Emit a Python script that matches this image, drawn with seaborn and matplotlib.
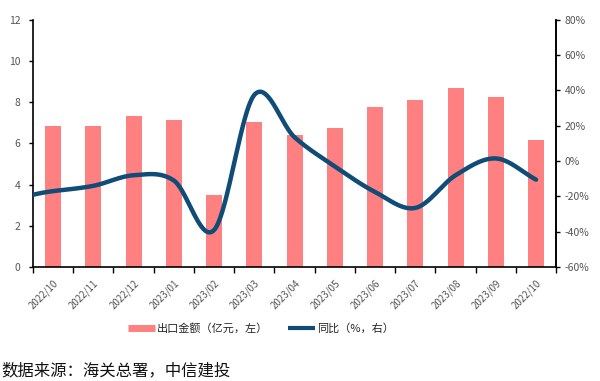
import numpy as np
import pandas as pd
import matplotlib
matplotlib.use("Agg")
import matplotlib.pyplot as plt
from matplotlib.lines import Line2D
from matplotlib.ticker import FuncFormatter
import seaborn as sns

months = ["2022/10", "2022/11", "2022/12", "2023/01", "2023/02", "2023/03", "2023/04",
          "2023/05", "2023/06", "2023/07", "2023/08", "2023/09", "2022/10"]
export_value = [6.85, 6.85, 7.35, 7.15, 3.5, 7.05, 6.4, 6.75, 7.75, 8.1, 8.7, 8.25, 6.15]
yoy_pct = [-17.0, -14.0, -8.0, -11.0, -39.0, 37.5, 13.5, -3.0, -17.5, -26.5, -8.0, 1.5, -10.5]

bar_color = "#FF8080"
line_color = "#0F4C78"

sns.set_theme(style="white")
plt.rcParams["font.family"] = ["Noto Sans CJK SC", "DejaVu Sans"]
plt.rcParams["axes.unicode_minus"] = True

fig = plt.figure(figsize=(6, 3.81), dpi=100)
ax = fig.add_axes([0.055, 0.299, 0.872, 0.649])

df = pd.DataFrame({"x": np.arange(len(months)), "v": export_value})
sns.barplot(data=df, x="x", y="v", color=bar_color, width=0.4, ax=ax,
            saturation=1, edgecolor="none", native_scale=False)
ax.set_xlim(-0.5, len(months) - 0.5)
ax.set_ylim(0, 12)
ax.set_yticks(np.arange(0, 13, 2))
ax.set_xticks(np.arange(len(months)))
ax.set_xticklabels(months, rotation=45, ha="right", rotation_mode="anchor",
                   fontsize=7, color="#555555")
ax.set_xlabel("")
ax.set_ylabel("")
ax.tick_params(axis="y", labelsize=7.5, labelcolor="#555555", left=True, length=3,
               width=1, color="black", direction="out", pad=6)
ax.tick_params(axis="x", bottom=False, pad=2)
ax.set_xticks(np.arange(-0.5, len(months), 1.0), minor=True)
ax.tick_params(axis="x", which="minor", bottom=True, length=4, width=1, color="black",
               direction="out")

for s in ["left", "bottom", "right"]:
    ax.spines[s].set_visible(True)
    ax.spines[s].set_color("black")
    ax.spines[s].set_linewidth(1.2)
ax.spines["top"].set_visible(False)

# smooth (Catmull-Rom) line through yoy values
y = np.array(yoy_pct, dtype=float)
x = np.arange(len(y), dtype=float)
pts_x, pts_y = [], []
n = len(y)
for i in range(n - 1):
    p0 = y[i - 1] if i > 0 else y[i] - (y[i + 1] - y[i])
    p1, p2 = y[i], y[i + 1]
    p3 = y[i + 2] if i + 2 < n else y[i + 1] + (y[i + 1] - y[i])
    t = np.linspace(-0.55 if i == 0 else 0, 1, 40)
    seg = 0.5 * ((2 * p1) + (-p0 + p2) * t + (2 * p0 - 5 * p1 + 4 * p2 - p3) * t ** 2
                 + (-p0 + 3 * p1 - 3 * p2 + p3) * t ** 3)
    pts_x.extend(x[i] + t)
    pts_y.extend(seg)
line_df = pd.DataFrame({"x": pts_x, "y": pts_y})

ax2 = ax.twinx()
sns.lineplot(data=line_df, x="x", y="y", color=line_color, linewidth=3.2, ax=ax2,
             sort=False, estimator=None, solid_capstyle="round")
ax2.set_ylim(-60, 80)
ax2.set_yticks(np.arange(-60, 81, 20))
ax2.yaxis.set_major_formatter(FuncFormatter(lambda v, p: f"{v:.0f}%"))
ax2.set_xlim(-0.5, len(months) - 0.5)
ax2.set_ylabel("")
ax2.set_xlabel("")
ax2.tick_params(axis="y", labelsize=7.5, labelcolor="#555555", right=True, length=3,
                width=1, color="black", direction="out", pad=3)
for s in ["left", "bottom", "top"]:
    ax2.spines[s].set_visible(False)
ax2.spines["right"].set_color("black")
ax2.spines["right"].set_linewidth(1.2)
if ax2.get_legend():
    ax2.get_legend().remove()

handles = [Line2D([], [], color=bar_color, lw=5, solid_capstyle="butt"),
           Line2D([], [], color=line_color, lw=3, solid_capstyle="butt")]
fig.legend(handles, ["出口金额（亿元，左）", "同比（%，右）"], loc="center",
           bbox_to_anchor=(0.435, 0.138), ncol=2, frameon=False, fontsize=8,
           handlelength=2.4, columnspacing=1.8, handletextpad=0.2)

fig.text(0.003, 0.005, "数据来源：海关总署，中信建投", fontsize=11.8, color="#111111",
         ha="left", va="bottom")

fig.savefig("out.png", dpi=100, facecolor="white")
